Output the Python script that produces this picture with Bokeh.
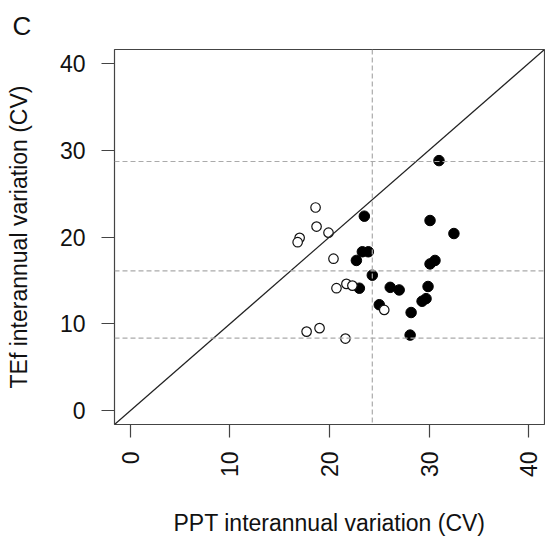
import math
from bokeh.plotting import figure
from bokeh.models import Range1d, Span, Slope, FixedTicker, Title
from bokeh.embed import file_html
from bokeh.resources import INLINE

# Open circles (group 1)
open_x = [18.6, 18.7, 19.9, 17.0, 16.8, 20.4, 21.7, 22.3, 20.7, 25.5, 17.7, 19.0, 21.6]
open_y = [23.4, 21.2, 20.5, 19.9, 19.4, 17.5, 14.6, 14.4, 14.1, 11.6, 9.1, 9.5, 8.3]

# Filled circles (group 2)
filled_x = [31.0, 23.5, 30.1, 32.5, 23.3, 23.9, 22.7, 30.6, 30.1, 24.3, 26.1, 27.0,
            23.0, 29.9, 25.0, 29.3, 29.7, 28.2, 28.1]
filled_y = [28.8, 22.4, 21.9, 20.4, 18.3, 18.3, 17.3, 17.3, 16.9, 15.6, 14.2, 13.9,
            14.1, 14.3, 12.2, 12.6, 12.9, 11.3, 8.7]

# Reference lines
hlines_y = [28.7, 16.1, 8.35]
vlines_x = [24.3]

ticks = [0, 10, 20, 30, 40]
axis_min, axis_max = 0, 40
pad = 0.04 * (axis_max - axis_min)

FONT = "Liberation Sans"

p = figure(width=545, height=539, output_backend="svg", toolbar_location=None,
           x_range=Range1d(axis_min - pad, axis_max + pad),
           y_range=Range1d(axis_min - pad, axis_max + pad),
           min_border_left=114, min_border_right=1, min_border_top=48,
           min_border_bottom=115)
p.background_fill_color = "white"
p.border_fill_color = "white"
p.outline_line_color = "#444444"
p.outline_line_width = 1.2
p.xgrid.visible = False
p.ygrid.visible = False

# Panel letter "C"
p.title = Title(text="C", align="left", offset=-102, standoff=17, text_font=FONT,
                text_font_size="26px", text_font_style="normal", text_color="#111111")

for ax, lab in ((p.xaxis[0], "PPT interannual variation (CV)"),
                (p.yaxis[0], "TEf interannual variation (CV)")):
    ax.ticker = FixedTicker(ticks=ticks)
    ax.axis_line_color = None
    ax.major_tick_out = 13
    ax.major_tick_in = 0
    ax.minor_tick_out = 0
    ax.minor_tick_in = 0
    ax.major_tick_line_color = "#444444"
    ax.major_tick_line_width = 1.2
    ax.major_label_text_font = FONT
    ax.major_label_text_font_size = "23px"
    ax.major_label_text_color = "#111111"
    ax.axis_label = lab
    ax.axis_label_text_font = FONT
    ax.axis_label_text_font_size = "23px"
    ax.axis_label_text_font_style = "normal"
    ax.axis_label_text_color = "#111111"

p.xaxis.major_label_orientation = math.pi / 2
p.xaxis.major_label_standoff = 14
p.xaxis.axis_label_standoff = 30
p.yaxis.major_label_standoff = 16
p.yaxis.axis_label_standoff = 25

# 1:1 line
p.add_layout(Slope(gradient=1, y_intercept=0, line_color="#222222", line_width=1.2))

for yv in hlines_y:
    p.add_layout(Span(location=yv, dimension="width", line_color="#aaaaaa",
                      line_dash="5 3", line_width=1.2))
for xv in vlines_x:
    p.add_layout(Span(location=xv, dimension="height", line_color="#aaaaaa",
                      line_dash="5 3", line_width=1.2))

p.scatter(filled_x, filled_y, size=10.5, fill_color="black", line_color="black",
          line_width=1)
p.scatter(open_x, open_y, size=9.5, fill_color="white", line_color="#111111",
          line_width=1.2)

open("out.html", "w").write(file_html(p, INLINE))
